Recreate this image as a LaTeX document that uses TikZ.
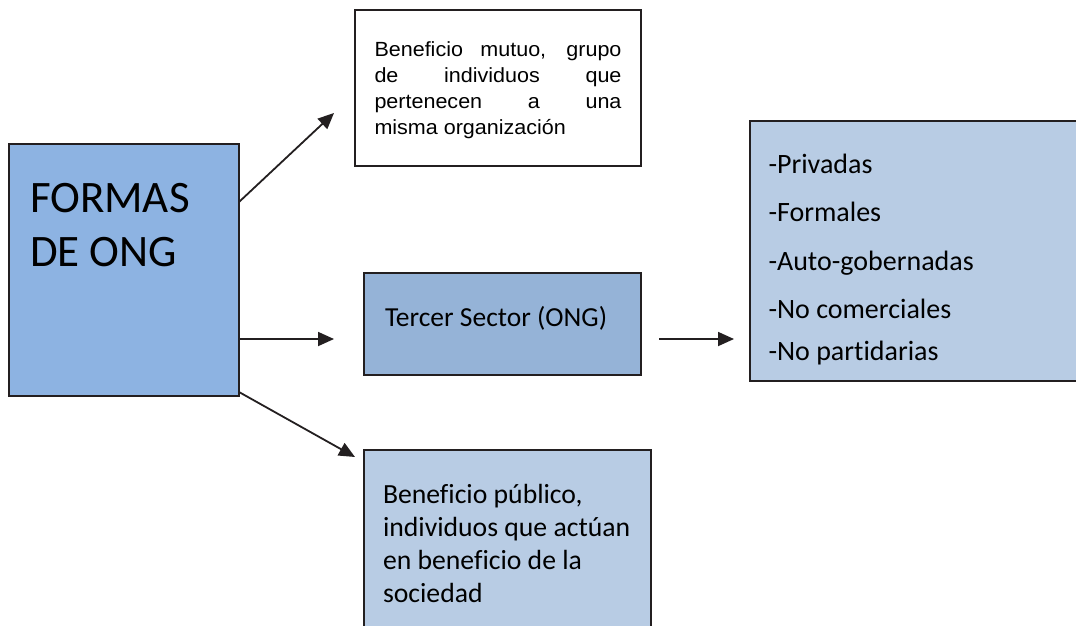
\documentclass[tikz,border=0pt]{standalone}
\usepackage{fontspec}
\setmainfont{Carlito}[Ligatures=NoCommon]
\newfontfamily\arialwide[FakeStretch=1.05]{Liberation Sans}
\usetikzlibrary{arrows.meta,calc}
\definecolor{mainblue}{HTML}{8DB3E2}
\definecolor{midblue}{HTML}{95B3D7}
\definecolor{paleblue}{HTML}{B8CCE4}
\definecolor{edge}{HTML}{231F20}

\begin{document}
\begin{tikzpicture}[x=1pt,y=-1pt,
	panel/.style n args={4}{draw=edge,line width=1.5pt,anchor=north west,outer sep=0pt,inner ysep=0pt,inner xsep=#3,
		execute at begin node={\begin{minipage}[t][#2][t]{#1}\rule{0pt}{#4}},
		execute at end node={\end{minipage}}},
	link/.style={draw=edge,line width=1.8pt,-{Triangle[length=16pt,width=14pt]}}]
\useasboundingbox (0,0) rectangle (1076,625);

\node[panel={188pt}{252pt}{21pt}{68pt},fill=mainblue,font=\fontsize{45}{54}\selectfont] (formas) at (9,144) {\raggedright FORMAS\\DE ONG};
\node[panel={247pt}{156pt}{19.5pt}{46pt},fill=white,font=\arialwide\fontsize{20.5}{26}\selectfont] (mutuo) at (355,10)
	{Beneficio mutuo, grupo\linebreak de individuos que\linebreak pertenecen a una\linebreak misma organización};
\node[panel={235pt}{102pt}{21pt}{53pt},fill=midblue,font=\fontsize{27.5}{33}\selectfont] (tercer) at (364,273) {Tercer Sector (ONG)};
\node[panel={303pt}{260pt}{18.5pt}{52pt},fill=paleblue,font=\fontsize{28}{48.5}\selectfont] (lista) at (750,121)
	{\raggedright -Privadas\\-Formales\\-Auto-gobernadas\\-No comerciales\\[-6.5pt]-No partidarias};
\node[panel={249pt}{200pt}{19pt}{53pt},fill=paleblue,font=\fontsize{27.7}{33}\selectfont] (publico) at (364,450)
	{\raggedright Beneficio público,\\individuos que actúan\\en beneficio de la\\sociedad};

% free arrow ends
\coordinate (t1) at (334,113);
\coordinate (t2) at (334,339);
\coordinate (t3) at (355,457);
\coordinate (s4) at (659,339);
\coordinate (t4) at (734,339);

\foreach \dy/\t in {58/t1,195/t2,248/t3}
	\draw[link] ($(formas.north east)+(0,\dy)$) -- (\t);
\draw[link] (s4) -- (t4);
\end{tikzpicture}
\end{document}
